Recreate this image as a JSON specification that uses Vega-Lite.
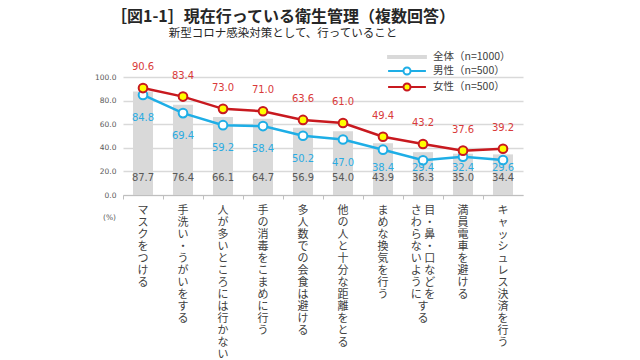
{
  "$schema": "https://vega.github.io/schema/vega-lite/v6.json",
  "width": 400,
  "height": 118,
  "autosize": {"type": "none"},
  "padding": {"left": 123, "top": 77, "right": 117, "bottom": 165},
  "background": "white",
  "title": {
    "text": "［図1-1］現在行っている衛生管理（複数回答）",
    "subtitle": "新型コロナ感染対策として、行っていること",
    "anchor": "middle",
    "frame": "group",
    "dx": -40,
    "offset": 10,
    "font": "Noto Sans CJK JP",
    "fontSize": 16,
    "fontWeight": "bold",
    "color": "#262626",
    "subtitleFont": "Noto Sans CJK JP",
    "subtitleFontSize": 11.5,
    "subtitleColor": "#262626",
    "subtitlePadding": 3
  },
  "config": {
    "view": {"stroke": null},
    "axisY": {"tickCount": 10},
    "legend": {"symbolStrokeWidth": 2, "labelFont": "Noto Sans CJK JP", "labelFontSize": 10.5, "labelColor": "#404040"}
  },
  "data": {
    "values": [
      {"item": "マスクをつける", "series": "全体（n=1000）", "value": 87.7},
      {"item": "マスクをつける", "series": "男性（n=500）", "value": 84.8},
      {"item": "マスクをつける", "series": "女性（n=500）", "value": 90.6},
      {"item": "手洗い・うがいをする", "series": "全体（n=1000）", "value": 76.4},
      {"item": "手洗い・うがいをする", "series": "男性（n=500）", "value": 69.4},
      {"item": "手洗い・うがいをする", "series": "女性（n=500）", "value": 83.4},
      {"item": "人が多いところには行かない", "series": "全体（n=1000）", "value": 66.1},
      {"item": "人が多いところには行かない", "series": "男性（n=500）", "value": 59.2},
      {"item": "人が多いところには行かない", "series": "女性（n=500）", "value": 73.0},
      {"item": "手の消毒をこまめに行う", "series": "全体（n=1000）", "value": 64.7},
      {"item": "手の消毒をこまめに行う", "series": "男性（n=500）", "value": 58.4},
      {"item": "手の消毒をこまめに行う", "series": "女性（n=500）", "value": 71.0},
      {"item": "多人数での会食は避ける", "series": "全体（n=1000）", "value": 56.9},
      {"item": "多人数での会食は避ける", "series": "男性（n=500）", "value": 50.2},
      {"item": "多人数での会食は避ける", "series": "女性（n=500）", "value": 63.6},
      {"item": "他の人と十分な距離をとる", "series": "全体（n=1000）", "value": 54.0},
      {"item": "他の人と十分な距離をとる", "series": "男性（n=500）", "value": 47.0},
      {"item": "他の人と十分な距離をとる", "series": "女性（n=500）", "value": 61.0},
      {"item": "まめな換気を行う", "series": "全体（n=1000）", "value": 43.9},
      {"item": "まめな換気を行う", "series": "男性（n=500）", "value": 38.4},
      {"item": "まめな換気を行う", "series": "女性（n=500）", "value": 49.4},
      {"item": "目・鼻・口などをさわらないようにする", "series": "全体（n=1000）", "value": 36.3},
      {"item": "目・鼻・口などをさわらないようにする", "series": "男性（n=500）", "value": 29.4},
      {"item": "目・鼻・口などをさわらないようにする", "series": "女性（n=500）", "value": 43.2},
      {"item": "満員電車を避ける", "series": "全体（n=1000）", "value": 35.0},
      {"item": "満員電車を避ける", "series": "男性（n=500）", "value": 32.4},
      {"item": "満員電車を避ける", "series": "女性（n=500）", "value": 37.6},
      {"item": "キャッシュレス決済を行う", "series": "全体（n=1000）", "value": 34.4},
      {"item": "キャッシュレス決済を行う", "series": "男性（n=500）", "value": 29.6},
      {"item": "キャッシュレス決済を行う", "series": "女性（n=500）", "value": 39.2}
    ]
  },
  "encoding": {
    "x": {
      "field": "item",
      "type": "nominal",
      "sort": null,
      "scale": {"paddingInner": 0.5, "paddingOuter": 0.25},
      "axis": {
        "title": null,
        "grid": false,
        "domainColor": "#BFBFBF",
        "domainWidth": 1,
        "ticks": true,
        "tickColor": "#BFBFBF",
        "tickSize": 4,
        "bandPosition": -0.5,
        "labelAngle": 0,
        "labelAlign": "center",
        "labelBaseline": "top",
        "labelFont": "Noto Sans CJK JP",
        "labelFontSize": 11,
        "labelLineHeight": 12,
        "labelColor": "#404040",
        "labelPadding": 5,
        "labelOverlap": false,
        "labelLimit": 400,
        "labelExpr": "datum.value == '目・鼻・口などをさわらないようにする' ? ['さ 目','わ ・','ら 鼻','な ・','い 口','よ な','う ど','に を','す 　','る 　'] : split(datum.value, '')"
      }
    },
    "y": {
      "field": "value",
      "type": "quantitative",
      "scale": {"domain": [0, 100]},
      "axis": {
        "values": [0, 20, 40, 60, 80, 100],
        "tickCount": 10,
        "format": ".1f",
        "domain": false,
        "ticks": false,
        "grid": true,
        "gridColor": "#D9D9D9",
        "gridWidth": 1.5,
        "labelOverlap": false,
        "labelFont": "DejaVu Sans",
        "labelFontSize": 7.5,
        "labelColor": "#595959",
        "labelPadding": 7,
        "title": "(%)",
        "titleAngle": 0,
        "titleX": -14,
        "titleY": 140,
        "titleAlign": "center",
        "titleBaseline": "middle",
        "titleFont": "DejaVu Sans",
        "titleFontSize": 7.5,
        "titleFontWeight": "normal",
        "titleColor": "#595959"
      }
    }
  },
  "layer": [
    {
      "transform": [{"filter": "datum.series == '全体（n=1000）'"}],
      "mark": {"type": "bar", "color": "#D9D9D9"}
    },
    {
      "transform": [{"filter": "datum.series == '全体（n=1000）'"}],
      "mark": {"type": "text", "font": "DejaVu Sans", "fontSize": 10, "color": "#595959", "dy": -17, "baseline": "middle"},
      "encoding": {
        "y": {"datum": 0, "type": "quantitative", "axis": {
        "values": [0, 20, 40, 60, 80, 100],
        "tickCount": 10,
        "format": ".1f",
        "domain": false,
        "ticks": false,
        "grid": true,
        "gridColor": "#D9D9D9",
        "gridWidth": 1.5,
        "labelOverlap": false,
        "labelFont": "DejaVu Sans",
        "labelFontSize": 7.5,
        "labelColor": "#595959",
        "labelPadding": 7,
        "title": "(%)",
        "titleAngle": 0,
        "titleX": -14,
        "titleY": 140,
        "titleAlign": "center",
        "titleBaseline": "middle",
        "titleFont": "DejaVu Sans",
        "titleFontSize": 7.5,
        "titleFontWeight": "normal",
        "titleColor": "#595959"
      }},
        "text": {"field": "value", "type": "quantitative", "format": ".1f"}
      }
    },
    {
      "transform": [{"filter": "datum.series == '男性（n=500）'"}],
      "mark": {"type": "line", "strokeWidth": 2.5, "color": "#1EAEE6"}
    },
    {
      "transform": [{"filter": "datum.series == '女性（n=500）'"}],
      "mark": {"type": "line", "strokeWidth": 2.5, "color": "#C8191F"}
    },
    {
      "transform": [{"filter": "datum.series == '男性（n=500）'"}],
      "mark": {"type": "point", "filled": true, "size": 75, "strokeWidth": 2, "opacity": 1, "fill": "#FFFFFF", "stroke": "#1EAEE6"}
    },
    {
      "transform": [{"filter": "datum.series == '女性（n=500）'"}],
      "mark": {"type": "point", "filled": true, "size": 75, "strokeWidth": 2, "opacity": 1, "fill": "#FFFF00", "stroke": "#C8191F"}
    },
    {
      "transform": [{"filter": "datum.series == '女性（n=500）'"}],
      "mark": {"type": "text", "font": "DejaVu Sans", "fontSize": 10, "color": "#D93A3A", "dy": -21, "baseline": "middle"},
      "encoding": {
        "text": {"field": "value", "type": "quantitative", "format": ".1f"}
      }
    },
    {
      "transform": [{"filter": "datum.series == '男性（n=500）'"}],
      "mark": {"type": "text", "font": "DejaVu Sans", "fontSize": 10, "color": "#2AABE2", "dy": {"expr": "min(23, datum.value * 1.18 - 27)"}, "baseline": "middle"},
      "encoding": {
        "text": {"field": "value", "type": "quantitative", "format": ".1f"}
      }
    },
    {
      "transform": [{"filter": "false"}],
      "mark": {"type": "point", "filled": true, "strokeWidth": 2, "opacity": 1},
      "encoding": {
        "shape": {
          "field": "series", "type": "nominal",
          "scale": {"domain": ["全体（n=1000）", "男性（n=500）", "女性（n=500）"], "range": ["M-2.7,-0.15H2.7V0.15H-2.7Z", "M-2.7,0H-0.5M0.5,0H2.7M-0.5,0A0.5,0.5,0,1,0,0.5,0A0.5,0.5,0,1,0,-0.5,0Z", "M-2.7,0H-0.5M0.5,0H2.7M-0.5,0A0.5,0.5,0,1,0,0.5,0A0.5,0.5,0,1,0,-0.5,0Z"]},
          "legend": {"title": null, "orient": "none", "legendX": 276, "legendY": -28, "padding": 0, "symbolSize": 196, "labelOffset": 18, "rowPadding": 0, "symbolStrokeWidth": 2}
        },
        "stroke": {"field": "series", "type": "nominal", "scale": {"domain": ["全体（n=1000）", "男性（n=500）", "女性（n=500）"], "range": ["#D9D9D9", "#1EAEE6", "#C8191F"]},
          "legend": {"title": null, "orient": "none", "legendX": 276, "legendY": -28, "padding": 0, "symbolSize": 196, "labelOffset": 18, "rowPadding": 0, "symbolStrokeWidth": 2}},
        "fill": {"field": "series", "type": "nominal", "scale": {"domain": ["全体（n=1000）", "男性（n=500）", "女性（n=500）"], "range": ["#D9D9D9", "#FFFFFF", "#FFFF00"]},
          "legend": {"title": null, "orient": "none", "legendX": 276, "legendY": -28, "padding": 0, "symbolSize": 196, "labelOffset": 18, "rowPadding": 0, "symbolStrokeWidth": 2}}
      }
    }
  ]
}
